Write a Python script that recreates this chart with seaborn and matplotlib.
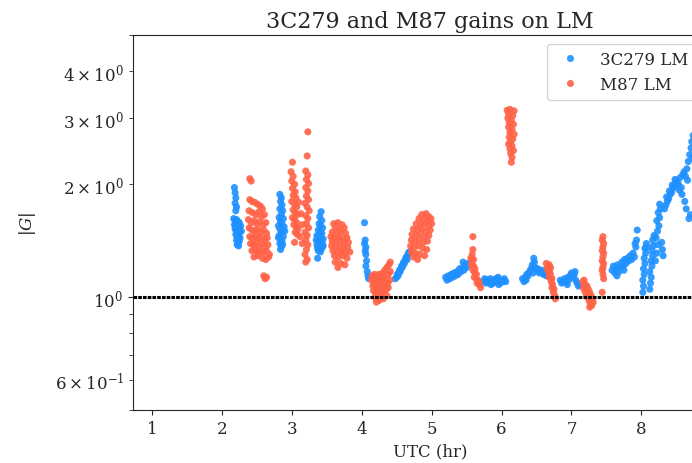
import matplotlib
matplotlib.use("Agg")
import matplotlib.pyplot as plt
import seaborn as sns
import pandas as pd

# ---- data (UTC hours, |G|) ----
t_3c279 = [
    # scan 2.2 h
    2.18, 2.19, 2.20, 2.19, 2.21, 2.20, 2.17, 2.19, 2.21, 2.23, 2.25, 2.18, 2.20, 2.22, 2.24, 2.27,
    2.19, 2.21, 2.23, 2.25, 2.28, 2.20, 2.22, 2.24, 2.26, 2.21, 2.23, 2.25, 2.22, 2.24,
    # scan 2.85 h
    2.83, 2.85, 2.84, 2.86, 2.83, 2.87, 2.85, 2.82, 2.88, 2.84, 2.86, 2.81, 2.89, 2.83, 2.87, 2.85,
    2.82, 2.88, 2.84, 2.86, 2.83, 2.87, 2.85, 2.84, 2.81, 2.90,
    # scan 3.4 h
    3.42, 3.40, 3.43, 3.39, 3.41, 3.44, 3.38, 3.40, 3.43, 3.36, 3.39, 3.42, 3.45, 3.35, 3.38, 3.41,
    3.44, 3.36, 3.39, 3.42, 3.45, 3.37, 3.40, 3.43, 3.38, 3.41, 3.37,
    # scan 4.05 h
    4.04, 4.05, 4.04, 4.06, 4.05, 4.06, 4.07, 4.06, 4.08, 4.09, 4.10,
    # scan 4.6 h
    4.48, 4.50, 4.51, 4.53, 4.54, 4.56, 4.57, 4.59, 4.60, 4.62, 4.63, 4.64, 4.66, 4.67, 4.68,
    4.52, 4.55, 4.58, 4.61, 4.65,
    # scan 5.35 h
    5.20, 5.22, 5.24, 5.26, 5.28, 5.30, 5.32, 5.34, 5.36, 5.38, 5.40, 5.42, 5.44, 5.46, 5.48, 5.50,
    5.52, 5.45,
    # scan 5.9 h
    5.74, 5.76, 5.78, 5.80, 5.82, 5.84, 5.86, 5.88, 5.90, 5.92, 5.94, 5.96, 5.98, 6.00, 6.02, 6.04,
    6.06, 5.95, 5.85,
    # scan 6.45 h
    6.30, 6.32, 6.34, 6.36, 6.38, 6.40, 6.42, 6.44, 6.46, 6.47, 6.48, 6.50, 6.52, 6.54, 6.56, 6.58,
    6.60, 6.62, 6.64, 6.35, 6.45,
    # scan 7.0 h
    6.84, 6.86, 6.88, 6.90, 6.92, 6.94, 6.96, 6.98, 7.00, 7.02, 7.04, 7.06, 7.08, 7.10, 7.12, 6.95,
    7.05,
    # scan 7.75 h
    7.58, 7.60, 7.62, 7.64, 7.66, 7.68, 7.70, 7.72, 7.74, 7.76, 7.78, 7.80, 7.82, 7.84, 7.86, 7.88,
    7.90, 7.92, 7.93, 7.94, 7.91, 7.65, 7.75,
    # scans 8.0-8.3 h
    8.02, 8.03, 8.02, 8.04, 8.03, 8.05, 8.04, 8.06, 8.05, 8.07, 8.08,
    8.12, 8.13, 8.14, 8.12, 8.15, 8.14, 8.16, 8.15, 8.17, 8.16, 8.18,
    8.20, 8.22, 8.24, 8.21, 8.23, 8.25, 8.22, 8.26, 8.24, 8.27, 8.26, 8.29, 8.30, 8.31,
    # scan 8.5 h
    8.33, 8.35, 8.37, 8.36, 8.39, 8.41, 8.40, 8.43, 8.45, 8.44, 8.47, 8.49, 8.48, 8.51, 8.53, 8.55,
    8.54, 8.57, 8.59, 8.58, 8.61, 8.63, 8.62, 8.65, 8.64, 8.67, 8.66, 8.69, 8.71, 8.72, 8.74, 8.73,
    8.70, 8.68,
]
g_3c279 = [
    1.96, 1.90, 1.84, 1.78, 1.74, 1.70, 1.62, 1.60, 1.61, 1.59, 1.58, 1.56, 1.55, 1.56, 1.54, 1.55,
    1.52, 1.50, 1.51, 1.49, 1.50, 1.47, 1.45, 1.46, 1.44, 1.42, 1.40, 1.41, 1.38, 1.37,
    1.88, 1.84, 1.80, 1.76, 1.72, 1.70, 1.66, 1.63, 1.62, 1.59, 1.57, 1.55, 1.54, 1.52, 1.50, 1.48,
    1.46, 1.45, 1.43, 1.41, 1.39, 1.38, 1.36, 1.34, 1.44, 1.50,
    1.69, 1.64, 1.60, 1.57, 1.55, 1.53, 1.51, 1.49, 1.48, 1.46, 1.45, 1.44, 1.43, 1.42, 1.41, 1.40,
    1.39, 1.38, 1.37, 1.36, 1.37, 1.35, 1.34, 1.35, 1.33, 1.32, 1.27,
    1.58, 1.42, 1.39, 1.36, 1.33, 1.30, 1.25, 1.21, 1.17, 1.14, 1.12,
    1.12, 1.13, 1.15, 1.16, 1.18, 1.19, 1.21, 1.22, 1.24, 1.25, 1.27, 1.28, 1.30, 1.31, 1.32,
    1.14, 1.17, 1.20, 1.23, 1.26,
    1.13, 1.11, 1.14, 1.12, 1.15, 1.13, 1.16, 1.14, 1.17, 1.15, 1.19, 1.17, 1.20, 1.18, 1.22, 1.20,
    1.23, 1.24,
    1.10, 1.12, 1.09, 1.11, 1.10, 1.12, 1.11, 1.09, 1.10, 1.12, 1.11, 1.08, 1.09, 1.11, 1.10, 1.12,
    1.10, 1.13, 1.08,
    1.12, 1.10, 1.13, 1.15, 1.14, 1.17, 1.19, 1.22, 1.27, 1.24, 1.20, 1.18, 1.19, 1.16, 1.17, 1.18,
    1.15, 1.16, 1.14, 1.11, 1.16,
    1.11, 1.09, 1.10, 1.12, 1.10, 1.08, 1.11, 1.14, 1.16, 1.13, 1.15, 1.11, 1.09, 1.07, 1.08, 1.13,
    1.17,
    1.18, 1.21, 1.16, 1.19, 1.22, 1.17, 1.20, 1.24, 1.21, 1.26, 1.23, 1.27, 1.25, 1.29, 1.26, 1.31,
    1.28, 1.36, 1.42, 1.51, 1.39, 1.14, 1.18,
    1.03, 1.07, 1.11, 1.15, 1.19, 1.23, 1.27, 1.31, 1.35, 1.39, 1.36,
    1.05, 1.09, 1.13, 1.17, 1.21, 1.25, 1.29, 1.33, 1.37, 1.42, 1.46,
    1.25, 1.31, 1.38, 1.44, 1.50, 1.55, 1.60, 1.63, 1.68, 1.72, 1.77, 1.40, 1.34, 1.29,
    1.72, 1.76, 1.80, 1.85, 1.83, 1.88, 1.92, 1.90, 1.95, 1.99, 1.97, 2.02, 2.06, 2.04, 2.00, 2.08,
    1.93, 1.96, 2.12, 1.88, 2.16, 2.10, 1.80, 2.20, 1.72, 2.30, 2.05, 2.40, 2.50, 2.60, 2.70, 2.35,
    1.66, 1.62,
]

t_m87 = [
    # scan 2.5 h
    2.40, 2.42,
    2.40, 2.43, 2.47, 2.51, 2.55, 2.58,
    2.39, 2.44, 2.49, 2.53, 2.57, 2.61,
    2.38, 2.42, 2.46, 2.50, 2.54, 2.59, 2.63,
    2.39, 2.43, 2.47, 2.51, 2.55, 2.60, 2.64,
    2.40, 2.44, 2.48, 2.52, 2.56, 2.61, 2.65,
    2.41, 2.45, 2.49, 2.53, 2.57, 2.62, 2.66,
    2.43, 2.47, 2.51, 2.55, 2.59, 2.64, 2.68,
    2.46, 2.52, 2.58, 2.63, 2.67,
    2.60, 2.62, 2.64,
    # scan 3.1 h
    3.01, 2.99, 3.02, 3.00, 3.04, 3.01, 3.05, 3.02, 3.06, 3.00, 3.04, 3.07, 3.02, 3.05, 3.08, 3.01,
    3.04, 3.07, 3.03, 3.06, 3.09, 3.05, 3.08, 3.04,
    3.23, 3.22, 3.20, 3.23, 3.21, 3.24, 3.20, 3.23, 3.21, 3.24, 3.19, 3.22, 3.25, 3.20, 3.23, 3.21,
    3.24, 3.19, 3.22, 3.20, 3.23, 3.21, 3.19, 3.22, 3.20,
    3.10, 3.13, 3.15, 3.12, 3.15,
    # scan 3.7 h
    3.60, 3.66, 3.72, 3.62, 3.68, 3.75, 3.58, 3.64, 3.70, 3.77, 3.56, 3.61, 3.67, 3.73, 3.79,
    3.58, 3.63, 3.69, 3.75, 3.81, 3.57, 3.62, 3.68, 3.74, 3.80, 3.59, 3.65, 3.71, 3.77, 3.83,
    3.61, 3.67, 3.73, 3.79, 3.62, 3.70, 3.66, 3.76,
    # scan 4.3 h
    4.15, 4.18, 4.21, 4.24, 4.27, 4.30, 4.33, 4.36, 4.39, 4.41,
    4.14, 4.17, 4.20, 4.23, 4.26, 4.29, 4.32, 4.35, 4.38, 4.41,
    4.16, 4.19, 4.22, 4.25, 4.28, 4.31, 4.34, 4.37, 4.40,
    4.17, 4.20, 4.23, 4.26, 4.29, 4.32, 4.35, 4.38,
    4.19, 4.22, 4.27, 4.31, 4.36, 4.21, 4.25,
    # scan 4.85 h
    4.86, 4.92, 4.96, 4.82, 4.88, 4.94, 4.99,
    4.78, 4.84, 4.90, 4.96, 5.00,
    4.74, 4.80, 4.86, 4.92, 4.98,
    4.72, 4.78, 4.84, 4.90, 4.96,
    4.71, 4.76, 4.82, 4.88, 4.94,
    4.70, 4.75, 4.81, 4.87, 4.93,
    4.71, 4.77, 4.83, 4.74, 4.80, 4.90,
    # scan 5.6 h
    5.59, 5.59, 5.58, 5.56, 5.58, 5.60, 5.57, 5.60, 5.62, 5.59, 5.62, 5.64, 5.61, 5.64, 5.66, 5.65,
    5.68, 5.70, 5.67,
    # scan 6.15 h
    6.08, 6.12, 6.18, 6.10, 6.16, 6.09, 6.14, 6.11, 6.17, 6.10, 6.15, 6.12, 6.18, 6.11, 6.16, 6.13,
    6.10, 6.15, 6.12, 6.17, 6.13, 6.15, 6.14,
    # scan 6.7 h
    6.64, 6.66, 6.68, 6.65, 6.67, 6.69, 6.70, 6.68, 6.72, 6.71, 6.73, 6.72, 6.75, 6.74, 6.76, 6.77,
    6.70,
    # scan 7.25 h
    7.16, 7.18, 7.20, 7.17, 7.22, 7.19, 7.24, 7.21, 7.26, 7.23, 7.28, 7.25, 7.30, 7.27, 7.29, 7.31,
    7.26,
    # scan 7.45 h
    7.45, 7.44, 7.46, 7.45, 7.44, 7.46, 7.45, 7.44, 7.46, 7.45, 7.44, 7.45, 7.46, 7.44,
]
g_m87 = [
    2.07, 2.04,
    1.82, 1.80, 1.79, 1.77, 1.75, 1.72,
    1.70, 1.68, 1.66, 1.69, 1.64, 1.66,
    1.61, 1.58, 1.60, 1.57, 1.59, 1.56, 1.58,
    1.53, 1.51, 1.50, 1.52, 1.49, 1.51, 1.48,
    1.45, 1.44, 1.46, 1.43, 1.45, 1.42, 1.44,
    1.39, 1.38, 1.40, 1.37, 1.39, 1.36, 1.38,
    1.33, 1.34, 1.32, 1.33, 1.31, 1.33, 1.30,
    1.28, 1.29, 1.27, 1.26, 1.28,
    1.14, 1.12, 1.13,
    2.29, 2.16, 2.10, 2.04, 2.00, 1.95, 1.91, 1.87, 1.84, 1.80, 1.77, 1.74, 1.71, 1.68, 1.66, 1.63,
    1.61, 1.58, 1.56, 1.54, 1.52, 1.49, 1.47, 1.40,
    2.76, 2.38, 2.17, 2.12, 2.06, 2.01, 1.96, 1.92, 1.86, 1.82, 1.78, 1.74, 1.70, 1.65, 1.62, 1.57,
    1.53, 1.49, 1.46, 1.42, 1.38, 1.34, 1.30, 1.26, 1.24,
    1.79, 1.67, 1.56, 1.45, 1.39,
    1.57, 1.58, 1.56, 1.53, 1.52, 1.53, 1.49, 1.48, 1.49, 1.48, 1.45, 1.44, 1.45, 1.43, 1.44,
    1.41, 1.40, 1.41, 1.39, 1.40, 1.37, 1.36, 1.37, 1.35, 1.36, 1.33, 1.32, 1.33, 1.31, 1.32,
    1.29, 1.28, 1.29, 1.27, 1.24, 1.23, 1.20, 1.22,
    1.14, 1.15, 1.13, 1.15, 1.14, 1.16, 1.18, 1.20, 1.22, 1.24,
    1.11, 1.10, 1.12, 1.11, 1.10, 1.12, 1.11, 1.13, 1.15, 1.17,
    1.07, 1.08, 1.06, 1.07, 1.08, 1.06, 1.08, 1.09, 1.11,
    1.04, 1.03, 1.04, 1.02, 1.04, 1.03, 1.05, 1.06,
    1.00, 0.99, 1.00, 0.99, 1.01, 0.97, 0.98,
    1.66, 1.67, 1.64, 1.62, 1.61, 1.60, 1.62,
    1.57, 1.56, 1.57, 1.55, 1.57,
    1.52, 1.51, 1.52, 1.50, 1.51,
    1.47, 1.46, 1.47, 1.45, 1.46,
    1.42, 1.41, 1.42, 1.40, 1.41,
    1.37, 1.36, 1.37, 1.35, 1.34,
    1.32, 1.31, 1.30, 1.28, 1.26, 1.29,
    1.45, 1.34, 1.30, 1.27, 1.25, 1.26, 1.22, 1.21, 1.19, 1.18, 1.16, 1.15, 1.13, 1.12, 1.11, 1.09,
    1.08, 1.06, 1.10,
    3.15, 3.17, 3.14, 3.08, 3.05, 3.00, 2.97, 2.92, 2.89, 2.84, 2.80, 2.75, 2.72, 2.67, 2.64, 2.60,
    2.56, 2.53, 2.49, 2.46, 2.42, 2.36, 2.29,
    1.23, 1.21, 1.22, 1.19, 1.17, 1.18, 1.15, 1.13, 1.12, 1.10, 1.08, 1.06, 1.05, 1.03, 1.01, 0.99,
    1.20,
    1.10, 1.11, 1.08, 1.06, 1.07, 1.04, 1.05, 1.02, 1.03, 1.00, 1.01, 0.98, 0.99, 0.96, 0.95, 0.97,
    0.94,
    1.45, 1.42, 1.39, 1.36, 1.33, 1.31, 1.28, 1.25, 1.23, 1.20, 1.18, 1.15, 1.12, 1.03,
]

sources = ["3C279 LM", "M87 LM"]
colors = ["#1E90FF", "#FF6347"]
x_ticks = [1, 2, 3, 4, 5, 6, 7, 8]

df = pd.concat([
    pd.DataFrame({"UTC": t_3c279, "G": g_3c279, "src": sources[0]}),
    pd.DataFrame({"UTC": t_m87, "G": g_m87, "src": sources[1]}),
], ignore_index=True)

sns.set_style("ticks")
plt.rcParams["font.family"] = ["DejaVu Serif"]
plt.rcParams["mathtext.fontset"] = "dejavuserif"
plt.rcParams["axes.edgecolor"] = "0.15"

fig = plt.figure(figsize=(6.92, 4.64), dpi=100)
ax = fig.add_axes([0.1922, 0.1142, 0.858, 0.808])

sns.scatterplot(data=df, x="UTC", y="G", hue="src", hue_order=sources,
                palette=colors, s=26, linewidth=0, alpha=0.9, ax=ax, zorder=2)
ax.axhline(1.0, color="black", lw=2.2, ls=(0, (1.2, 0.35)), zorder=3)

ax.set_yscale("log")
ax.set_ylim(0.5, 5.0)
ax.set_xlim(0.73, 9.22)
ax.set_xticks(x_ticks)
ax.tick_params(which="both", labelsize=12, direction="out")
ax.tick_params(which="major", length=3.5)
ax.tick_params(which="minor", length=3.0)
ax.set_xlabel("UTC (hr)", fontsize=12)
ax.set_ylabel(r"$|G|$", fontsize=12, labelpad=12)
ax.set_title("3C279 and M87 gains on LM", fontsize=16)

ax.legend(loc="upper left", bbox_to_anchor=(0.6965, 0.976), borderaxespad=0,
          fontsize=12, frameon=True, framealpha=0.8, edgecolor="0.8")

fig.savefig("out.png", dpi=100)
